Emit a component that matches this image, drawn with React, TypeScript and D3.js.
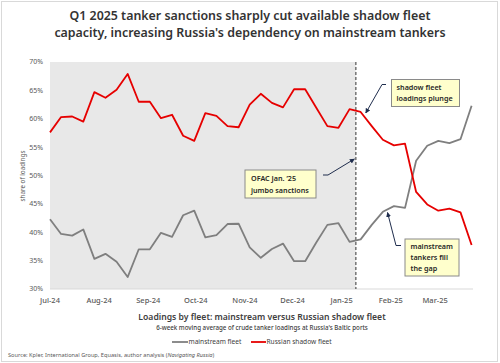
import React from "react";
import * as d3 from "d3";

const startDate = "2024-07-01";
const shadowFleet = [57.6, 60.3, 60.4, 59.5, 64.7, 63.7, 65.1, 67.9, 63.0, 63.0, 60.1, 60.7, 57.0, 56.1, 61.0, 60.5, 58.7, 58.5, 62.5, 64.4, 62.8, 62.0, 65.2, 65.2, 61.95, 58.7, 58.4, 61.7, 61.2, 58.7, 56.3, 55.3, 55.6, 47.1, 44.9, 43.8, 44.15, 43.5, 37.75];
const mainstream = [42.3, 39.7, 39.4, 40.5, 35.3, 36.2, 34.8, 32.1, 37.0, 37.0, 39.9, 39.2, 43.0, 43.8, 39.1, 39.5, 41.45, 41.5, 37.35, 35.5, 37.05, 38.0, 34.9, 34.9, 38.2, 41.3, 41.6, 38.3, 38.75, 41.3, 43.6, 44.6, 44.3, 52.6, 55.25, 56.1, 55.7, 56.4, 62.3];
const yTicks = [30, 35, 40, 45, 50, 55, 60, 65, 70];
const sanctionDate = "2025-01-10";

const W = 500, H = 363;
const FONT = "'Noto Sans', sans-serif";

export default function App() {
  const parse = d3.utcParse("%Y-%m-%d");
  const t0 = parse(startDate)!;
  const dates = shadowFleet.map((_, i) => d3.utcDay.offset(t0, i * 7));
  const tEnd = dates[dates.length - 1];
  const x = d3.scaleUtc().domain([t0, tEnd]).range([50, 471.6]);
  const y = d3.scaleLinear().domain([30, 70]).range([289, 62]);
  const monthTicks = d3.utcMonth.range(t0, d3.utcDay.offset(tEnd, 1));
  const fmt = d3.utcFormat("%b-%y");
  const line = d3.line<number>().x((_, i) => x(dates[i])).y((d) => y(d));
  const xs = x(parse(sanctionDate)!);

  const annBox = { fill: "#ffffcc", stroke: "#8a8a8a", strokeWidth: 1 };
  const annText = { fontFamily: FONT, fontSize: 7.2, fontWeight: 600, fill: "#262626" } as const;
  const arrowCol = "#1f2d4d";

  return (
    <div style={{ position: "fixed", left: 0, top: 0 }}>
      <svg width={W} height={H} viewBox={`0 0 ${W} ${H}`} style={{ display: "block", background: "#fff" }}>
        <defs>
          <marker id="ah" viewBox="0 0 10 10" refX="9" refY="5" markerWidth="5" markerHeight="5" orient="auto">
            <path d="M0,0 L10,5 L0,10 z" fill={arrowCol} />
          </marker>
        </defs>
        <rect x={1.5} y={1.5} width={W - 4} height={H - 3} fill="none" stroke="#d9d9d9" />
        <text x={250} y={20} textAnchor="middle" fontFamily={FONT} fontSize={12.4} fontWeight={600} fill="#333">
          Q1 2025 tanker sanctions sharply cut available shadow fleet
        </text>
        <text x={250} y={37} textAnchor="middle" fontFamily={FONT} fontSize={12.4} fontWeight={600} fill="#333">
          capacity, increasing Russia's dependency on mainstream tankers
        </text>

        <rect x={x(t0)} y={y(70)} width={xs - x(t0)} height={y(30) - y(70)} fill="#e8e8e8" />
        <line x1={x(t0)} x2={473} y1={y(30)} y2={y(30)} stroke="#d9d9d9" strokeWidth={1} />

        {yTicks.map((t) => (
          <text key={t} x={43} y={y(t)} dy="0.35em" textAnchor="end" fontFamily={FONT} fontSize={7} fill="#595959">
            {t}%
          </text>
        ))}
        <text transform={`translate(25,${176}) rotate(-90)`} textAnchor="middle" fontFamily={FONT} fontSize={6.3} fill="#595959">
          share of loadings
        </text>
        {monthTicks.map((m) => (
          <text key={+m} x={x(m)} y={302.5} textAnchor="middle" fontFamily={FONT} fontSize={7.5} fontWeight={500} fill="#595959">
            {fmt(m)}
          </text>
        ))}

        <line x1={xs} x2={xs} y1={y(70)} y2={y(30)} stroke="#333" strokeWidth={1} strokeDasharray="3,2" />

        <path d={line(mainstream) ?? ""} fill="none" stroke="#7f7f7f" strokeWidth={1.8} strokeLinejoin="round" />
        <path d={line(shadowFleet) ?? ""} fill="none" stroke="#e60000" strokeWidth={1.8} strokeLinejoin="round" />

        {/* OFAC annotation */}
        <rect x={245} y={170} width={71} height={28} {...annBox} />
        <text x={251} y={181} {...annText}>OFAC Jan. ’25</text>
        <text x={251} y={192.5} {...annText}>jumbo sanctions</text>
        <polyline points={`323,175 328,175 ${xs - 1.5},159`} fill="none" stroke={arrowCol} strokeWidth={1} markerEnd="url(#ah)" />

        {/* shadow fleet annotation */}
        <rect x={391.5} y={79.5} width={68} height={27} {...annBox} />
        <text x={396.5} y={90} {...annText}>shadow fleet</text>
        <text x={396.5} y={101} {...annText}>loadings plunge</text>
        <polyline points={`386,84.5 382,84.5 ${x(dates[29]) - 6},113`} fill="none" stroke={arrowCol} strokeWidth={1} markerEnd="url(#ah)" />

        {/* mainstream annotation */}
        <rect x={405} y={239} width={54} height={37} {...annBox} />
        <text x={410.5} y={249} {...annText}>mainstream</text>
        <text x={410.5} y={260} {...annText}>tankers fill</text>
        <text x={410.5} y={271} {...annText}>the gap</text>
        <polyline points={`401,245.5 396,245.5 387.5,212.5`} fill="none" stroke={arrowCol} strokeWidth={1} markerEnd="url(#ah)" />

        <text x={262} y={319.5} textAnchor="middle" fontFamily={FONT} fontSize={8.6} fontWeight={600} fill="#404040">
          Loadings by fleet: mainstream versus Russian shadow fleet
        </text>
        <text x={262} y={330} textAnchor="middle" fontFamily={FONT} fontSize={6.2} fontWeight={500} fill="#404040">
          6-week moving average of crude tanker loadings at Russia's Baltic ports
        </text>

        <line x1={172} x2={188} y1={342} y2={342} stroke="#7f7f7f" strokeWidth={1.8} />
        <text x={188.5} y={344.3} fontFamily={FONT} fontSize={6.6} fill="#404040">mainstream fleet</text>
        <line x1={251} x2={266} y1={342} y2={342} stroke="#e60000" strokeWidth={1.8} />
        <text x={266.5} y={344.3} fontFamily={FONT} fontSize={6.6} fill="#404040">Russian shadow fleet</text>

        <text x={8} y={356.5} fontFamily={FONT} fontSize={5.65} fill="#595959">
          Source: Kpler, International Group, Equasis, author analysis (<tspan fontStyle="italic">Navigating Russia</tspan>)
        </text>
      </svg>
    </div>
  );
}
